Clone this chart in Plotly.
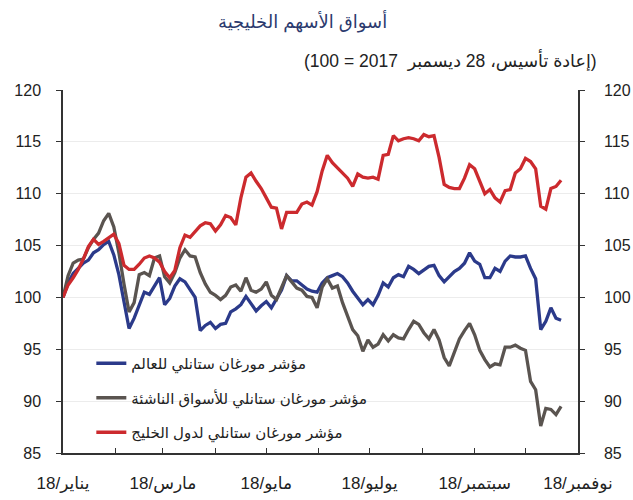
import pandas as pd
import plotly.graph_objects as go

# ---- data (rebased, 28 Dec 2017 = 100), sampled every 3 days from 1 Jan 2018 ----
dates = pd.date_range("2018-01-01", periods=99, freq="3D")

world = [100, 101.4, 102.3, 102.8, 103.3, 103.6, 104.3, 104.6, 105.1, 105.4,
         104.1, 102.2, 99.7, 97.0, 98.0, 99.3, 100.5, 100.3, 101.1, 101.9,
         99.3, 99.9, 101.1, 101.8, 101.5, 100.8, 100.0, 96.8, 97.3, 97.6,
         97.0, 97.4, 97.5, 98.6, 98.9, 99.3, 100.1, 99.4, 98.7, 99.2,
         99.6, 99.0, 99.9, 100.7, 102.1, 101.6, 101.6, 101.2, 100.8, 100.6,
         100.5, 101.4, 101.9, 102.1, 102.3, 102.0, 101.4, 100.6, 100.0, 99.3,
         99.8, 99.3, 100.2, 101.4, 101.0, 101.9, 102.2, 102.0, 103.0, 102.7,
         102.3, 102.7, 103.0, 103.1, 102.1, 101.5, 102.0, 102.5, 102.8, 103.3,
         104.3, 103.5, 103.2, 101.9, 101.9, 102.8, 102.5, 103.5, 104.0, 103.9,
         103.9, 104.0, 102.8, 101.8, 96.9, 97.7, 99.0, 98.0, 97.8]

emerging = [100, 102.1, 103.3, 103.6, 103.7, 104.8, 105.6, 106.2, 107.4, 108.1,
            106.8, 104.3, 101.3, 98.6, 99.5, 102.2, 102.4, 102.1, 103.8, 104.0,
            102.0, 101.4, 102.4, 103.8, 104.6, 104.0, 103.9, 102.4, 101.3, 100.5,
            100.2, 99.8, 100.2, 101.0, 101.2, 100.6, 101.9, 100.7, 100.5, 100.8,
            101.5, 100.2, 99.8, 101.0, 102.1, 101.5, 100.9, 100.7, 100.1, 100.0,
            99.0, 101.0, 101.8, 100.9, 101.1, 99.5, 98.2, 96.9, 96.3, 94.8,
            95.9, 95.2, 95.5, 96.4, 95.8, 96.4, 96.1, 96.0, 96.9, 97.7,
            97.4, 96.6, 96.0, 96.9, 95.9, 94.2, 93.4, 94.8, 96.0, 96.8,
            97.5, 96.4, 94.9, 94.0, 93.3, 93.6, 93.5, 95.2, 95.2, 95.4,
            95.1, 94.9, 91.9, 91.1, 87.6, 89.3, 89.2, 88.7, 89.5]

gulf = [100, 101.2, 101.9, 102.7, 103.7, 104.9, 105.6, 105.1, 105.4, 105.8,
        106.1, 105.2, 103.1, 102.7, 102.7, 103.2, 103.8, 104.0, 103.8, 103.4,
        102.5, 101.9, 102.6, 104.8, 106.0, 105.8, 106.3, 106.9, 107.2, 107.1,
        106.4, 107.0, 107.9, 107.7, 107.0, 109.6, 111.6, 112.0, 111.2, 110.5,
        109.6, 108.7, 108.6, 106.6, 108.2, 108.2, 108.2, 109.0, 109.2, 108.9,
        110.2, 112.2, 113.7, 113.0, 112.5, 112.1, 111.5, 110.7, 111.9, 111.6,
        111.5, 111.6, 111.4, 113.7, 113.8, 115.6, 115.1, 115.3, 115.4, 115.3,
        115.1, 115.7, 115.5, 115.6, 113.5, 110.9, 110.6, 110.5, 110.5, 111.5,
        112.8, 112.4, 111.2, 110.0, 110.4, 109.6, 109.2, 110.3, 110.4, 112.0,
        112.4, 113.4, 113.1, 112.4, 108.8, 108.5, 110.5, 110.7, 111.3]

names = ["مؤشر مورغان ستانلي للعالم",
         "مؤشر مورغان ستانلي للأسواق الناشئة",
         "مؤشر مورغان ستانلي لدول الخليج"]
colors = ["#2B3A8A", "#5A5450", "#CC2A2E"]

month_ticks = ["2018-%02d-01" % m for m in range(1, 12)]
month_labels = ["يناير/18", "", "مارس/18", "", "مايو/18", "", "يوليو/18", "",
                "سبتمبر/18", "", "نوفمبر/18"]
month_labels = ["\u202B" + t + "\u202C" if t else "" for t in month_labels]

y_ticks = [85, 90, 95, 100, 105, 110, 115, 120]

title = "أسواق الأسهم الخليجية"
subtitle = "(إعادة تأسيس، 28 ديسمبر  2017 = 100)"

# ---- figure ----
FONT = "Liberation Sans, Arial, DejaVu Sans, sans-serif"
fig = go.Figure()
for i, series in enumerate([world, emerging, gulf]):
    fig.add_trace(go.Scatter(
        x=dates, y=series, mode="lines", name=names[i],
        line=dict(color=colors[i], width=3.3),
        legendgroup="g%d" % i,
    ))
# invisible helper trace so the right-hand axis is drawn
fig.add_trace(go.Scatter(x=dates, y=gulf, yaxis="y2", mode="lines",
                         line=dict(width=0, color="rgba(0,0,0,0)"),
                         showlegend=False, hoverinfo="skip"))

axis_common = dict(range=[85, 120], tickvals=y_ticks, ticks="outside", ticklen=5,
                   tickcolor="#333", showline=True, linecolor="#333", linewidth=1.5,
                   tickfont=dict(family=FONT, size=16, color="#222"), zeroline=False,
                   automargin=False)

fig.update_layout(
    width=633, height=500,
    margin=dict(l=63, r=55, t=90, b=47),
    paper_bgcolor="white", plot_bgcolor="white",
    showlegend=True,
    legend=dict(x=0.055, y=0.292, xanchor="left", yanchor="top",
                bgcolor="rgba(0,0,0,0)", tracegroupgap=12,
                font=dict(family=FONT, size=15, color="#222")),
    xaxis=dict(type="date", range=["2018-01-01", "2018-11-01"],
               tickvals=month_ticks, ticktext=month_labels,
               ticks="inside", ticklen=5, tickcolor="#333",
               showline=True, linecolor="#333", linewidth=1.5,
               showgrid=False, zeroline=False, ticklabelstandoff=14,
               automargin=False,
               tickfont=dict(family=FONT, size=17, color="#222")),
    yaxis=dict(side="left", showgrid=True, gridcolor="#ececec", gridwidth=1,
               ticklabelstandoff=12, **axis_common),
    yaxis2=dict(side="right", overlaying="y", showgrid=False,
                ticklabelstandoff=16, **axis_common),
    annotations=[
        dict(text=title, xref="paper", yref="paper", x=0.466, y=1.19,
             xanchor="center", yanchor="middle", showarrow=False,
             font=dict(family=FONT, size=18, color="#2B3A6E")),
        dict(text="\u202B" + subtitle + "\u202C", xref="paper", yref="paper",
             x=1.041, y=1.083, xanchor="right", yanchor="middle", showarrow=False,
             font=dict(family=FONT, size=17.5, color="#222")),
    ],
)

fig.write_html("out.html")
